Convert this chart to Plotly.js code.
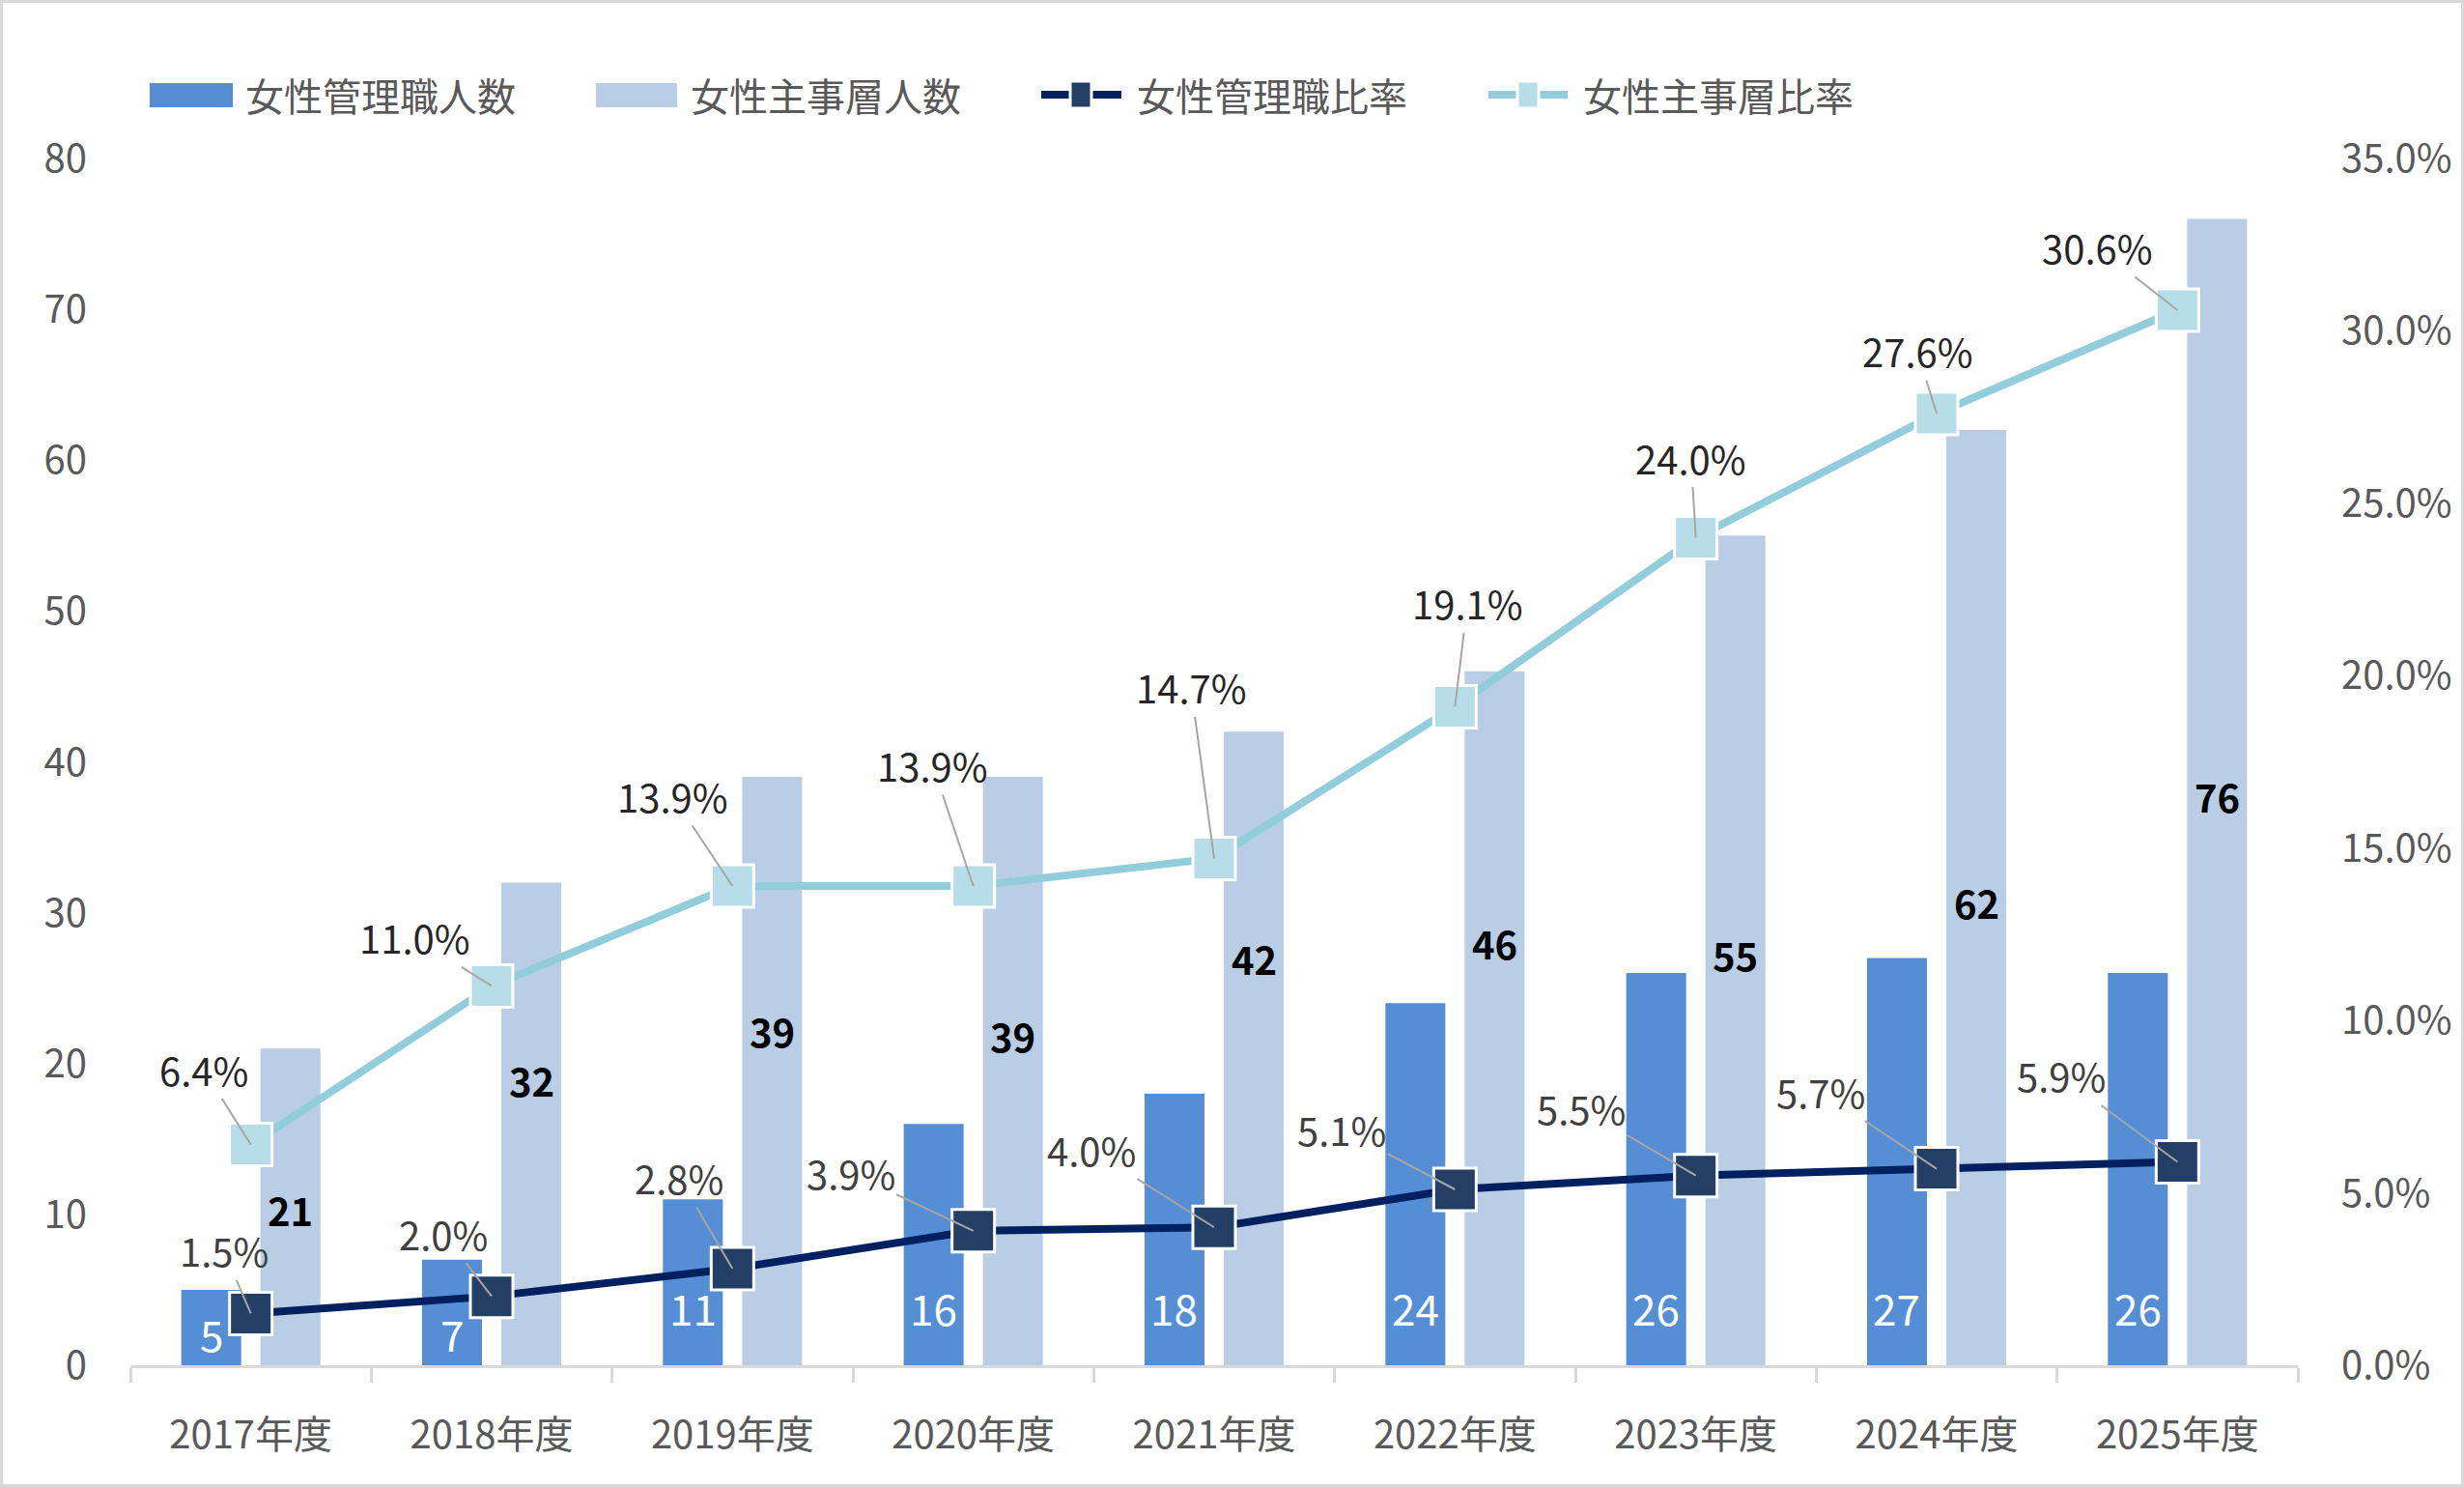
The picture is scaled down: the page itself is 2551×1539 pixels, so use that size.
<!DOCTYPE html>
<html>
<head>
<meta charset="utf-8">
<script src="https://cdn.plot.ly/plotly-3.0.1.min.js"></script>
<style>
  html, body { margin: 0; padding: 0; background: #fff; overflow: hidden; }
  #chart { width: 2545px; height: 1533px; border: 3px solid #d9d9d9; }
</style>
</head>
<body>
<div id="chart"></div>
<script>
var years = ['2017年度', '2018年度', '2019年度', '2020年度', '2021年度', '2022年度', '2023年度', '2024年度', '2025年度'];
var managers = [5, 7, 11, 16, 18, 24, 26, 27, 26];
var staff = [21, 32, 39, 39, 42, 46, 55, 62, 76];
var managerRate = [1.5, 2.0, 2.8, 3.9, 4.0, 5.1, 5.5, 5.7, 5.9];
var staffRate = [6.4, 11.0, 13.9, 13.9, 14.7, 19.1, 24.0, 27.6, 30.6];
var names = ['女性管理職人数', '女性主事層人数', '女性管理職比率', '女性主事層比率'];

// label offsets (px), like the hand-placed Excel labels
var staffOff = [[-49, -78], [-80, -50], [-62, -93], [-42, -125], [-24, -177], [13, -107], [-5, -83], [-20, -65], [-83, -65]];
var managerOff = [[-28, -65], [-50, -65], [-55, -94], [-127, -60], [-127, -80], [-117, -62], [-119, -70], [-120, -80], [-120, -89]];
var managerLblShift = [33, 33, 60, 60, 60, 60, 60, 60, 60];
var staffLblShift = [-3, 45, 42, 37, 93, 78, -4, -5, -4];

var font = '"Noto Sans CJK JP", "Noto Sans", sans-serif';
var grey = '#595959';
var bargap = 0.342;
var half = (1 - bargap) / 4;   // bar centre offset from the category centre

var trace1 = {
  x: years, y: managers, name: names[0], type: 'bar',
  marker: {color: '#558ED5'}, hoverinfo: 'skip'
};
var trace2 = {
  x: years, y: staff, name: names[1], type: 'bar',
  marker: {color: '#B9CDE5'}, hoverinfo: 'skip'
};
var trace3 = {
  x: years, y: managerRate, name: names[2], type: 'scatter', mode: 'lines+markers',
  yaxis: 'y2', cliponaxis: false,
  line: {color: '#002060', width: 8},
  marker: {symbol: 'square', size: 44, color: '#243F66', line: {color: '#ffffff', width: 3}}
};
var trace4 = {
  x: years, y: staffRate, name: names[3], type: 'scatter', mode: 'lines+markers',
  yaxis: 'y2', cliponaxis: false,
  line: {color: '#92CDDC', width: 8},
  marker: {symbol: 'square', size: 44, color: '#B7DEE8', line: {color: '#ffffff', width: 3}}
};

var annotations = [];
// bar value labels
managers.forEach(function (v, i) {
  annotations.push({
    x: i - half, y: 0, xref: 'x', yref: 'y', yanchor: 'middle', yshift: managerLblShift[i],
    text: String(v), showarrow: false,
    font: {family: font, size: 44, color: '#ffffff'}
  });
});
staff.forEach(function (v, i) {
  annotations.push({
    x: i + half, y: v / 2, xref: 'x', yref: 'y', yanchor: 'middle', yshift: staffLblShift[i],
    text: String(v), showarrow: false,
    font: {family: font, size: 40, color: '#000000', weight: 'bold'}
  });
});
// percent labels with leader lines
staffRate.forEach(function (v, i) {
  annotations.push({
    x: years[i], y: v, xref: 'x', yref: 'y2', text: v.toFixed(1) + '%',
    showarrow: true, arrowhead: 0, arrowwidth: 2, arrowcolor: '#a6a6a6', standoff: 0,
    ax: staffOff[i][0], ay: staffOff[i][1],
    font: {family: font, size: 40, color: '#262626'}
  });
});
managerRate.forEach(function (v, i) {
  annotations.push({
    x: years[i], y: v, xref: 'x', yref: 'y2', text: v.toFixed(1) + '%',
    showarrow: true, arrowhead: 0, arrowwidth: 2, arrowcolor: '#a6a6a6', standoff: 0,
    ax: managerOff[i][0], ay: managerOff[i][1],
    font: {family: font, size: 40, color: '#404040'}
  });
});

// custom legend (wide swatches like the original)
var L = 135, W = 2244, B = 1413, H = 1249;
function px(v) { return (v - L) / W; }
function py(v) { return (B - v) / H; }
var shapes = [];
var legY = 98;
shapes.push({type: 'rect', xref: 'paper', yref: 'paper', x0: px(155), x1: px(241), y0: py(111), y1: py(86), fillcolor: '#558ED5', line: {width: 0}});
shapes.push({type: 'rect', xref: 'paper', yref: 'paper', x0: px(617), x1: px(701), y0: py(111), y1: py(86), fillcolor: '#B9CDE5', line: {width: 0}});
shapes.push({type: 'line', xref: 'paper', yref: 'paper', x0: px(1078), x1: px(1161), y0: py(legY), y1: py(legY), line: {color: '#002060', width: 8}});
shapes.push({type: 'rect', xref: 'paper', yref: 'paper', x0: px(1108), x1: px(1130), y0: py(112), y1: py(84), fillcolor: '#243F66', line: {color: '#ffffff', width: 3}});
shapes.push({type: 'line', xref: 'paper', yref: 'paper', x0: px(1541), x1: px(1623), y0: py(legY), y1: py(legY), line: {color: '#92CDDC', width: 8}});
shapes.push({type: 'rect', xref: 'paper', yref: 'paper', x0: px(1571), x1: px(1593), y0: py(112), y1: py(84), fillcolor: '#B7DEE8', line: {color: '#ffffff', width: 3}});
var legX = [252, 713, 1175, 1637];
names.forEach(function (n, i) {
  annotations.push({
    xref: 'paper', yref: 'paper', x: px(legX[i]), y: py(legY), xanchor: 'left', yanchor: 'middle',
    text: n, showarrow: false, font: {family: font, size: 40, color: grey}
  });
});

var layout = {
  width: 2545, height: 1533,
  margin: {l: 132, r: 169, t: 161, b: 123},
  paper_bgcolor: '#ffffff', plot_bgcolor: '#ffffff',
  font: {family: font, size: 40, color: grey},
  showlegend: false,
  barmode: 'group', bargap: bargap, bargroupgap: 0.244,
  xaxis: {
    type: 'category', range: [-0.5, years.length - 0.5],
    showline: true, linecolor: '#d9d9d9', linewidth: 3,
    ticks: 'outside', tickson: 'boundaries', ticklen: 15, tickwidth: 3, tickcolor: '#d9d9d9',
    ticklabelstandoff: 35, tickfont: {family: font, size: 40, color: grey},
    showgrid: false, zeroline: false, fixedrange: true
  },
  yaxis: {
    range: [0, 80], dtick: 10, showgrid: false, zeroline: false, showline: false,
    ticks: '', ticklabelstandoff: 44, tickfont: {family: font, size: 40, color: grey}, fixedrange: true
  },
  yaxis2: {
    range: [0, 35], dtick: 5, tickformat: '.1f', ticksuffix: '%', overlaying: 'y', side: 'right',
    showgrid: false, zeroline: false, showline: false,
    ticks: '', ticklabelstandoff: 44, tickfont: {family: font, size: 40, color: grey}, fixedrange: true
  },
  annotations: annotations,
  shapes: shapes
};

var data = [trace1, trace2, trace3, trace4];

Plotly.newPlot('chart', data, layout, {displayModeBar: false, staticPlot: true});
</script>
</body>
</html>
